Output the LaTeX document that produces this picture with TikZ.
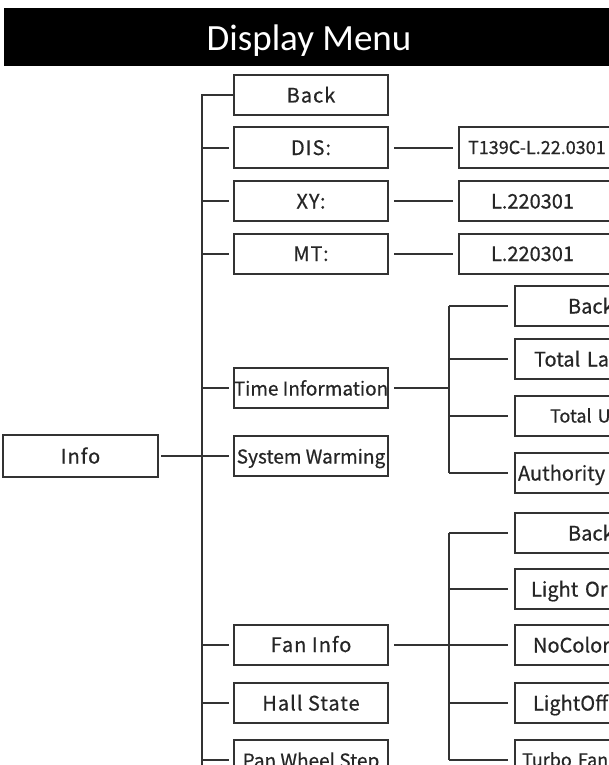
\documentclass[tikz,border=0pt]{standalone}
\usepackage{fontspec}
\setmainfont{Noto Sans CJK SC}[FakeBold=0.6]
\newfontfamily\boxfont{Noto Sans CJK SC}[FakeBold=0.6,LetterSpace=5]
\newfontfamily\titlefont{Carlito}
\usetikzlibrary{positioning}

\begin{document}
\begin{tikzpicture}[x=1pt,y=-1pt,line width=2pt,
  box/.style={draw=black!80,line width=2pt,minimum width=154pt,minimum height=40pt,
    inner sep=0pt,text=black!85,font=\boxfont\fontsize{20}{24}\selectfont,text height=15pt,text depth=0pt},
  long/.style={font=\rmfamily\fontsize{19}{22}\selectfont},
  rbox/.style={box,anchor=west,minimum width=0pt,text width=220pt,align=left,font=\rmfamily\fontsize{20}{24}\selectfont},
  small/.style={font=\rmfamily\fontsize{18}{22}\selectfont,text height=13pt},
  link/.style={draw=black!80,line width=2pt}]
 \useasboundingbox (0,0) rectangle (609,765);
 \clip (0,0) rectangle (609,765);
 % title bar
 \fill[black] (4,8) rectangle (615,66);
 \node[text=white,font=\titlefont\fontsize{37}{40}\selectfont,text height=24pt,text depth=0pt] (title) at (309,38.7) {Display Menu};
 % first level
 \node[box,minimum width=155pt,minimum height=42pt] (info) at (80.5,456) {Info};
 \node[box] (back) at (311,95) {Back};
 \node[box] (dis) at (311,147.5) {DIS:};
 \node[box] (xy) at (311,201) {XY:};
 \node[box] (mt) at (311,253.5) {MT:};
 \node[box,long] (time) at (311,388) {Time Information};
 \node[box,long] (warm) at (311,456) {System Warming};
 \node[box] (fan) at (311,644.5) {Fan Info};
 \node[box] (hall) at (311,703) {Hall State};
 \node[box,long] (pan) at (311,760) {Pan Wheel Step};
 \coordinate (trunk) at (202,775);
 \draw[link] (back.west) -- (back.west -| trunk) -- (trunk);
 \foreach \n in {dis,xy,mt,time,warm,fan,hall,pan}
  \draw[link,shorten >=4pt] (\n.west -| trunk) -- (\n.west);
 \draw[link,shorten <=2pt,shorten >=4pt] (info.east) -- (warm.west);
 % version values
 \node[rbox,small,inner xsep=9pt] (disv) at (458,147.5) {T139C-L.22.0301};
 \node[rbox,inner xsep=32pt] (xyv) at (458,201) {L.220301};
 \node[rbox,inner xsep=32pt] (mtv) at (458,253.5) {L.220301};
 \draw[link,shorten <=5pt,shorten >=5pt] (dis.east) -- (disv.west);
 \draw[link,shorten <=5pt,shorten >=5pt] (xy.east) -- (xyv.west);
 \draw[link,shorten <=5pt,shorten >=5pt] (mt.east) -- (mtv.west);
 % time information
 \coordinate (tj) at (449,388);
 \node[rbox,inner xsep=53pt] (tback) at (514,306) {Back};
 \node[rbox,inner xsep=19pt] (tlamp) at (514,359) {Total La};
 \node[rbox,small,inner xsep=35pt] (tuse) at (514,416) {Total U};
 \node[rbox,inner xsep=3pt] (tauth) at (514,473) {Authority};
 \draw[link,shorten <=5pt] (time.east) -- (tj);
 \draw[link] (tback.west -| tj) -- (tauth.west -| tj);
 \foreach \n in {tback,tlamp,tuse,tauth}
  \draw[link,shorten >=6pt] (\n.west -| tj) -- (\n.west);
 % fan info
 \coordinate (fj) at (449,644.5);
 \node[rbox,inner xsep=53pt] (fback) at (514,533) {Back};
 \node[rbox,inner xsep=16pt] (flight) at (514,589) {Light Or};
 \node[rbox,inner xsep=18pt] (fnocol) at (514,645) {NoColor};
 \node[rbox,inner xsep=18pt] (foff) at (514,703) {LightOff};
 \node[rbox,small,inner xsep=7pt] (fturbo) at (514,760) {Turbo Fan};
 \draw[link,shorten <=5pt] (fan.east) -- (fj);
 \draw[link] (fback.west -| fj) -- (fturbo.west -| fj);
 \foreach \n in {fback,flight,fnocol,foff,fturbo}
  \draw[link,shorten >=6pt] (\n.west -| fj) -- (\n.west);
\end{tikzpicture}
\end{document}
